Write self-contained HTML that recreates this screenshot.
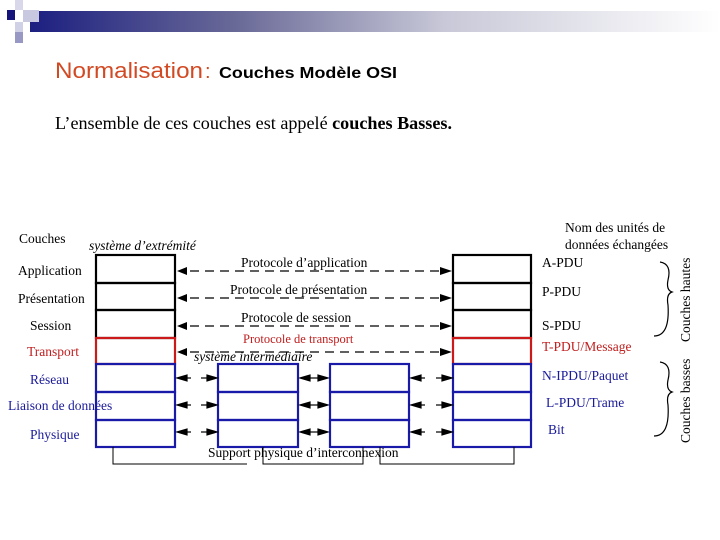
<!DOCTYPE html>
<html><head><meta charset="utf-8"><style>
body{margin:0;width:720px;height:540px;background:#fff;overflow:hidden;position:relative}
svg{position:absolute;left:0;top:0}
</style></head><body>
<svg width="720" height="540" xmlns="http://www.w3.org/2000/svg">
<defs>
<linearGradient id="g" x1="0" x2="1" y1="0" y2="0">
<stop offset="0" stop-color="#1c1f80"/><stop offset="0.3" stop-color="#6a6a98"/><stop offset="0.6" stop-color="#c8c8d8"/><stop offset="1" stop-color="#ffffff"/></linearGradient>
</defs>
<rect x="30" y="11" width="690" height="21" fill="url(#g)"/>
<rect x="15" y="0" width="8" height="10" fill="#d8d8ea"/>
<rect x="7" y="10" width="8" height="10" fill="#14147a"/>
<rect x="23" y="10" width="16" height="12" fill="#c8c8e0"/>
<rect x="15" y="22" width="8" height="10" fill="#d0d0e6"/>
<rect x="15" y="32" width="8" height="11" fill="#9898c4"/>
<text x="55" y="78" font-family="Liberation Sans, sans-serif" font-size="22" fill="#d24a24" textLength="148" lengthAdjust="spacingAndGlyphs">Normalisation</text>
<text x="205" y="78" font-family="Liberation Sans, sans-serif" font-size="20" fill="#d24a24">:</text>
<text x="219" y="78" font-family="Liberation Sans, sans-serif" font-size="15.5" font-weight="bold" fill="#000" textLength="178" lengthAdjust="spacingAndGlyphs">Couches Modèle OSI</text>
<text x="55" y="129" font-family="Liberation Serif, serif" font-size="18" fill="#000" textLength="397" lengthAdjust="spacingAndGlyphs">L’ensemble de ces couches est appelé <tspan font-weight="bold">couches Basses.</tspan></text>
<g font-family="Liberation Serif, serif" font-size="13.5">
<text x="19" y="243">Couches</text>
<text x="89" y="250" font-style="italic">système d’extrémité</text>
<text x="18" y="275">Application</text>
<text x="18" y="303">Présentation</text>
<text x="30" y="330">Session</text>
<text x="27" y="356" fill="#c02020">Transport</text>
<text x="30" y="384" fill="#1a1a9a">Réseau</text>
<text x="8" y="410" fill="#1a1a9a">Liaison de données</text>
<text x="30" y="439" fill="#1a1a9a">Physique</text>
<text x="241" y="267">Protocole d’application</text>
<text x="230" y="294">Protocole de présentation</text>
<text x="241" y="322">Protocole de session</text>
<text x="243" y="343" fill="#c02020" font-size="12.5">Protocole de transport</text>
<text x="194" y="361" font-style="italic">système intermédiaire</text>
<text x="565" y="232">Nom des unités de</text>
<text x="565" y="249">données échangées</text>
<text x="542" y="267">A-PDU</text>
<text x="542" y="296">P-PDU</text>
<text x="542" y="330">S-PDU</text>
<text x="542" y="351" fill="#c02020">T-PDU/Message</text>
<text x="542" y="380" fill="#1a1a9a">N-IPDU/Paquet</text>
<text x="546" y="407" fill="#1a1a9a">L-PDU/Trame</text>
<text x="548" y="434" fill="#1a1a9a">Bit</text>
<text x="208" y="457">Support physique d’interconnexion</text>
<text transform="translate(690,342) rotate(-90)">Couches hautes</text>
<text transform="translate(690,443) rotate(-90)">Couches basses</text>
</g>
<g fill="none" stroke="#000" stroke-width="1.2">
<path d="M660,262 Q672,264 668,280 Q666,290 672,292 Q666,294 668,305 Q670,336 654,336"/>
<path d="M660,362 Q672,364 668,380 Q666,390 672,392 Q666,394 668,405 Q670,436 654,436"/>
</g>
<g fill="none" stroke-width="2.2">
<g stroke="#000"><rect x="96" y="255" width="79" height="28"/><rect x="96" y="283" width="79" height="27"/><rect x="96" y="310" width="79" height="28"/>
<rect x="453" y="255" width="78" height="28"/><rect x="453" y="283" width="78" height="27"/><rect x="453" y="310" width="78" height="28"/></g>
<g stroke="#cc1a1a"><rect x="96" y="338" width="79" height="26"/><rect x="453" y="338" width="78" height="26"/></g>
<g stroke="#1a1aa8">
<rect x="96" y="364" width="79" height="28"/><rect x="96" y="392" width="79" height="28"/><rect x="96" y="420" width="79" height="27"/>
<rect x="453" y="364" width="78" height="28"/><rect x="453" y="392" width="78" height="28"/><rect x="453" y="420" width="78" height="27"/>
<rect x="218" y="364" width="80" height="28"/><rect x="218" y="392" width="80" height="28"/><rect x="218" y="420" width="80" height="27"/>
<rect x="330" y="364" width="79" height="28"/><rect x="330" y="392" width="79" height="28"/><rect x="330" y="420" width="79" height="27"/>
</g></g>
<g stroke="#000" stroke-width="1.2" stroke-dasharray="9,6">
<line x1="190" y1="271" x2="442" y2="271"/>
<line x1="190" y1="298" x2="442" y2="298"/>
<line x1="190" y1="326" x2="442" y2="326"/>
<line x1="190" y1="352" x2="442" y2="352"/>
</g>
<g fill="#000">
<path d="M177,271 l10,-4 v8 z"/><path d="M177,298 l10,-4 v8 z"/><path d="M177,326 l10,-4 v8 z"/><path d="M177,352 l10,-4 v8 z"/>
<path d="M452,271 l-12,-4 v8 z"/><path d="M452,298 l-12,-4 v8 z"/><path d="M452,326 l-12,-4 v8 z"/><path d="M452,352 l-12,-4 v8 z"/>
</g>
<g stroke="#000" stroke-width="1.2" fill="#000">
<g id="r"><path d="M177,378 l10,-3 v6 z"/><line x1="187" y1="378" x2="191" y2="378"/><path d="M217,378 l-10,-3 v6 z"/><line x1="201" y1="378" x2="207" y2="378"/>
<path d="M300,378 l10,-3 v6 z M328,378 l-10,-3 v6 z"/><line x1="310" y1="378" x2="318" y2="378"/>
<path d="M411,378 l10,-3 v6 z"/><line x1="421" y1="378" x2="425" y2="378"/><path d="M452,378 l-10,-3 v6 z"/><line x1="436" y1="378" x2="442" y2="378"/></g>
<use href="#r" y="27"/><use href="#r" y="54"/>
</g>
<g fill="none" stroke="#000" stroke-width="1">
<path d="M113,447 V464 H247"/>
<path d="M263,447 V464 H363 V447"/>
<path d="M380,447 V464 H514 V447"/>
</g>
</svg>
</body></html>
